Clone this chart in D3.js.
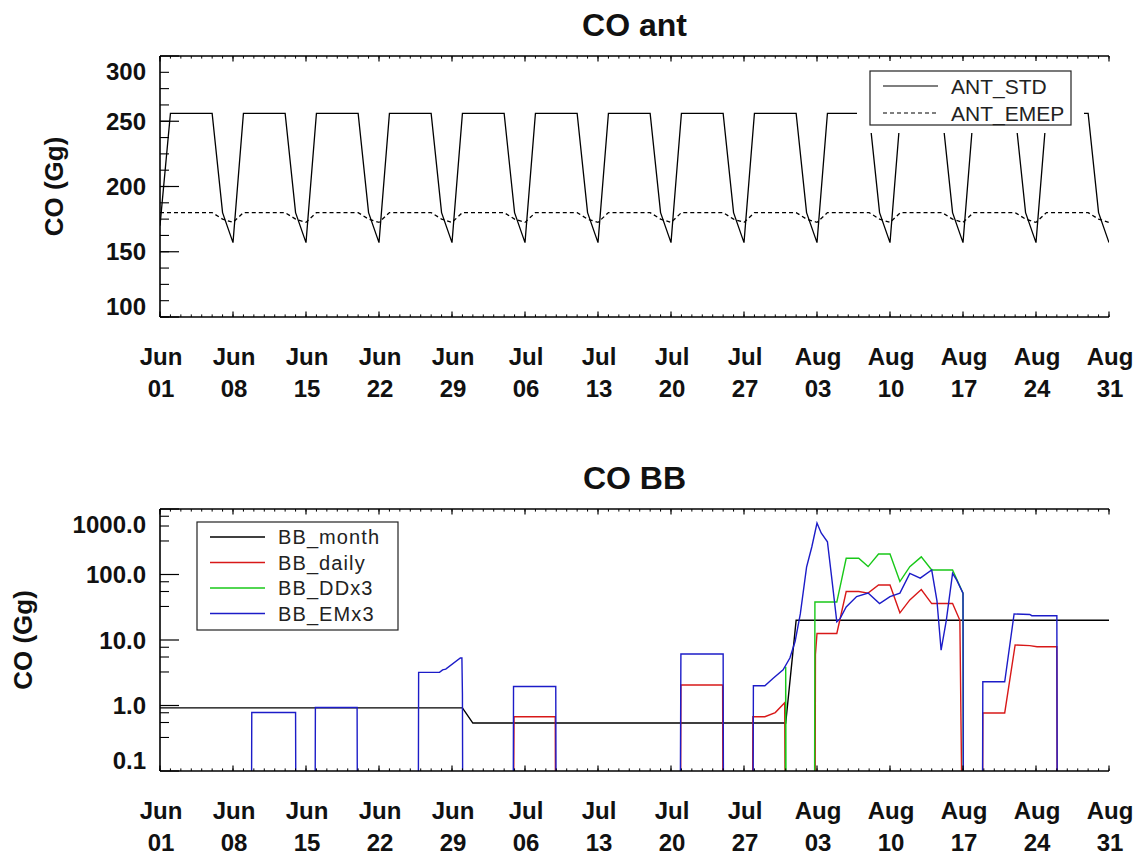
<!DOCTYPE html>
<html><head><meta charset="utf-8">
<script src="https://cdn.jsdelivr.net/npm/d3@7"></script>
<style>body{margin:0;background:#fff}svg{display:block}</style>
</head><body>
<svg id="c" width="1139" height="857"></svg>
<script>
// ---------------- DATA ----------------
const startDate = "2008-06-01";
const endDate = "2008-08-31";
const dateTicks = ["2008-06-01","2008-06-08","2008-06-15","2008-06-22","2008-06-29","2008-07-06","2008-07-13",
  "2008-07-20","2008-07-27","2008-08-03","2008-08-10","2008-08-17","2008-08-24","2008-08-31"];

// daily values, day 0 = Jun 01 ... day 91 = Aug 31
const antStd = [
 170,256,256,256,256,256,180, 157,256,256,256,256,256,180, 157,256,256,256,256,256,180,
 157,256,256,256,256,256,180, 157,256,256,256,256,256,180, 157,256,256,256,256,256,180,
 157,256,256,256,256,256,180, 157,256,256,256,256,256,180, 157,256,256,256,256,256,180,
 157,256,256,256,256,256,180, 157,256,256,256,256,256,180, 157,256,256,256,256,256,180,
 157,256,256,256,256,256,180, 157];
const antEmep = [
 180,180,180,180,180,180,175, 172.5,180,180,180,180,180,175, 172.5,180,180,180,180,180,175,
 172.5,180,180,180,180,180,175, 172.5,180,180,180,180,180,175, 172.5,180,180,180,180,180,175,
 172.5,180,180,180,180,180,175, 172.5,180,180,180,180,180,175, 172.5,180,180,180,180,180,175,
 172.5,180,180,180,180,180,175, 172.5,180,180,180,180,180,175, 172.5,180,180,180,180,180,175,
 172.5,180,180,180,180,180,175, 172.5];

// [day since Jun 01, value]; 0 = no emission (below the log axis)
const bbMonth = [[0,0.92],[29,0.92],[30,0.54],[60,0.54],[61,20],[91,20]];
const bbDaily = [[0,0],[33.85,0],[33.95,0.675],[37.9,0.675],[37.95,0],
  [49.9,0],[49.95,2.06],[53.95,2.06],[54.0,0],
  [56.8,0],[56.85,0.675],[58.0,0.675],[59.0,0.78],[59.9,1.1],[60.0,0],
  [62.8,0],[62.85,6],[63.0,12.6],[64.9,12.6],[65.8,55],[67.0,55],[67.9,52],[68.9,69],[70.0,69],
  [70.95,26],[71.9,41],[73.0,59],[74.0,36],[76.0,36],[76.7,20],[77.0,0],
  [78.85,0],[78.9,0.77],[81.0,0.77],[82.0,8.4],[83.4,8.2],[84.1,7.9],[86.0,7.9],[86.05,0],[91,0]];
const bbDDx3 = [[0,0],[59.95,0],[60.0,3.9],[60.05,0],
  [62.75,0],[62.8,38],[64.9,38],[65.8,177],[67.0,177],[67.9,132],[68.9,206],[70.0,206],
  [70.95,78],[71.9,132],[73.0,186],[74.0,117],[76.0,117],[77.0,52],[77.05,0],[91,0]];
const bbEMx3 = [[0,0],
  [8.75,0],[8.8,0.78],[13.0,0.78],[13.05,0],
  [14.85,0],[14.9,0.93],[18.9,0.93],[18.95,0],
  [24.75,0],[24.8,3.2],[26.8,3.2],[27.1,3.5],[27.4,3.6],[28.8,5.3],[28.95,5.3],[29.0,1.5],[29.05,0],
  [33.85,0],[33.9,1.95],[37.95,1.95],[38.0,0],
  [49.85,0],[49.95,6.1],[54.0,6.1],[54.05,0],
  [56.85,0],[56.9,2.0],[58.0,2.0],[58.8,2.6],[59.75,3.5],[60.4,5.3],[60.9,9.5],[61.4,25],[62.0,130],
  [62.5,263],[63.0,610],[63.4,430],[64.0,316],[64.4,92],[64.9,19],[65.2,21],[65.8,32],[66.8,46],
  [67.9,52],[69.0,36],[70.0,46],[70.95,52],[71.9,104],[72.9,88],[74.0,117],[74.5,40],[74.9,7],
  [75.4,20],[76.0,104],[76.4,82],[77.0,52],[77.05,0],
  [78.85,0],[78.9,2.3],[81.0,2.3],[81.9,25],[83.4,24.5],[83.6,23.5],[86.0,23.5],[86.05,0],[91,0]];

const antTicks = [100,150,200,250,300];
const antTickLabels = ["100","150","200","250","300"];
const bbTicks = [0.1,1,10,100,1000];
const bbTickLabels = ["0.1","1.0","10.0","100.0","1000.0"];

const antSeries = [{name:"ANT_STD", values:antStd, dash:null},{name:"ANT_EMEP", values:antEmep, dash:"4,3"}];
const bbSeries = [{name:"BB_month", values:bbMonth, color:"#000000"},
                  {name:"BB_daily", values:bbDaily, color:"#d81818"},
                  {name:"BB_DDx3", values:bbDDx3, color:"#18c818"},
                  {name:"BB_EMx3", values:bbEMx3, color:"#1c1cc8"}];

// ---------------- LAYOUT ----------------
const svg = d3.select("#c");
const FONT = "'Liberation Sans', Arial, Helvetica, sans-serif";
const t0 = d3.utcParse("%Y-%m-%d")(startDate), t1 = d3.utcParse("%Y-%m-%d")(endDate);
const dayToDate = d => new Date(t0.getTime() + d*864e5);
const tickDateObjs = dateTicks.map(d3.utcParse("%Y-%m-%d"));

const P1 = {l:160, r:1109, t:56, b:317};
const P2 = {l:160, r:1109, t:509, b:771};

function xAxis(P, x) {
  const g = svg.append("g").attr("stroke","#000");
  g.append("line").attr("x1",P.l).attr("x2",P.r).attr("y1",P.b).attr("y2",P.b).attr("stroke-width",1.6);
  g.append("line").attr("x1",P.l).attr("x2",P.r).attr("y1",P.t).attr("y2",P.t).attr("stroke-width",1.6);
  const days = d3.utcDay.range(t0, d3.utcDay.offset(t1,1));
  days.forEach(d => {
    const xx = x(d);
    g.append("line").attr("x1",xx).attr("x2",xx).attr("y1",P.b).attr("y2",P.b-2.6).attr("stroke-width",1);
    g.append("line").attr("x1",xx).attr("x2",xx).attr("y1",P.t).attr("y2",P.t+2.6).attr("stroke-width",1);
  });
  tickDateObjs.forEach(d => {
    const xx = x(d);
    g.append("line").attr("x1",xx).attr("x2",xx).attr("y1",P.b).attr("y2",P.b-5.5).attr("stroke-width",1.2);
    g.append("line").attr("x1",xx).attr("x2",xx).attr("y1",P.t).attr("y2",P.t+5.5).attr("stroke-width",1.2);
    const tg = svg.append("g").attr("font-family",FONT).attr("font-weight","bold").attr("font-size",24)
      .attr("text-anchor","middle").attr("fill","#111");
    tg.append("text").attr("x",xx+1).attr("y",P.b+48).text(d3.utcFormat("%b")(d));
    tg.append("text").attr("x",xx+1).attr("y",P.b+80).text(d3.utcFormat("%d")(d));
  });
}

function yAxis(P, y, ticks, labels, minor) {
  const g = svg.append("g").attr("stroke","#000");
  g.append("line").attr("x1",P.l).attr("x2",P.l).attr("y1",P.t).attr("y2",P.b).attr("stroke-width",1.6);
  minor.forEach(v => {
    const yy = y(v);
    g.append("line").attr("x1",P.l).attr("x2",P.l+9).attr("y1",yy).attr("y2",yy).attr("stroke-width",1.1);
  });
  const [d0,d1] = y.domain();
  ticks.forEach((v,i) => {
    const yy = y(v);
    g.append("line").attr("x1",P.l).attr("x2",P.l+19).attr("y1",yy).attr("y2",yy).attr("stroke-width",1.2);
    let cy = yy;
    if (v === d1) cy = yy + 15;
    if (v === d0) cy = yy - 11;
    svg.append("text").attr("x",P.l-14).attr("y",cy+8.5).attr("text-anchor","end")
      .attr("font-family",FONT).attr("font-weight","bold").attr("font-size",24).attr("fill","#111")
      .text(labels[i]);
  });
}

function title(P, txt) {
  svg.append("text").attr("x",(P.l+P.r)/2).attr("y",P.t-20).attr("text-anchor","middle")
    .attr("font-family",FONT).attr("font-weight","bold").attr("font-size",32).attr("fill","#111").text(txt);
}
function yTitle(P, bx, txt) {
  svg.append("text").attr("transform",`translate(${bx},${(P.t+P.b)/2}) rotate(-90)`)
    .attr("text-anchor","middle").attr("font-family",FONT).attr("font-weight","bold")
    .attr("font-size",26).attr("fill","#111").text(txt);
}

// ---------------- TOP CHART ----------------
const x1 = d3.scaleUtc().domain([t0,t1]).range([P1.l,P1.r]);
const y1 = d3.scaleLinear().domain([100,300]).range([P1.b,P1.t]);
svg.append("clipPath").attr("id","clip1").append("rect")
  .attr("x",P1.l).attr("y",P1.t).attr("width",P1.r-P1.l).attr("height",P1.b-P1.t);
const lineTop = d3.line().x((v,i)=>x1(dayToDate(i))).y(v=>y1(v));
const gTop = svg.append("g").attr("clip-path","url(#clip1)");
antSeries.forEach(s => {
  gTop.append("path").attr("d",lineTop(s.values)).attr("fill","none").attr("stroke","#000")
    .attr("stroke-width",1.3).attr("stroke-dasharray",s.dash);
});
xAxis(P1, x1);
yAxis(P1, y1, antTicks, antTickLabels, d3.range(100,300,12.5));
title(P1, "CO ant");
yTitle(P1, 63, "CO (Gg)");

// legend (top)
{
  const L = {x:870, y:71, w:201, h:54};
  svg.append("rect").attr("x",L.x-13).attr("y",L.y-10).attr("width",L.w+26).attr("height",L.h+18).attr("fill","#fff");
  svg.append("rect").attr("x",L.x).attr("y",L.y).attr("width",L.w).attr("height",L.h)
    .attr("fill","none").attr("stroke","#222").attr("stroke-width",1.2);
  antSeries.forEach((s,i) => {
    const yy = L.y + 15 + i*27;
    svg.append("line").attr("x1",L.x+13).attr("x2",L.x+68).attr("y1",yy).attr("y2",yy)
      .attr("stroke","#000").attr("stroke-width",1.2).attr("stroke-dasharray",s.dash);
    svg.append("text").attr("x",L.x+81).attr("y",yy+8).attr("font-family",FONT).attr("font-size",21)
      .attr("fill","#222").text(s.name);
  });
}

// ---------------- BOTTOM CHART ----------------
const x2 = d3.scaleUtc().domain([t0,t1]).range([P2.l,P2.r]);
const y2 = d3.scaleLog().domain([0.1,1000]).range([P2.b,P2.t]);
const FLOOR = 1e-3; // zero emissions plotted below the axis (clipped)
svg.append("clipPath").attr("id","clip2").append("rect")
  .attr("x",P2.l).attr("y",P2.t).attr("width",P2.r-P2.l).attr("height",P2.b-P2.t);
const lineBot = d3.line().x(d=>x2(dayToDate(d[0]))).y(d=>y2(Math.max(d[1],FLOOR)));
const gBot = svg.append("g").attr("clip-path","url(#clip2)");
bbSeries.forEach(s => {
  gBot.append("path").attr("d",lineBot(s.values)).attr("fill","none").attr("stroke",s.color)
    .attr("stroke-width",1.4);
});
xAxis(P2, x2);
const bbMinor = [];
[0.1,1,10,100].forEach(dec => [3.25,5.5,7.75].forEach(m => bbMinor.push(dec*m)));
yAxis(P2, y2, bbTicks, bbTickLabels, bbMinor);
title(P2, "CO BB");
yTitle(P2, 32, "CO (Gg)");

// legend (bottom)
{
  const L = {x:197, y:522, w:201, h:108};
  svg.append("rect").attr("x",L.x).attr("y",L.y).attr("width",L.w).attr("height",L.h)
    .attr("fill","#fff").attr("stroke","#222").attr("stroke-width",1.2);
  bbSeries.forEach((s,i) => {
    const yy = L.y + 15 + i*25.5;
    svg.append("line").attr("x1",L.x+13).attr("x2",L.x+68).attr("y1",yy).attr("y2",yy)
      .attr("stroke",s.color).attr("stroke-width",1.3);
    svg.append("text").attr("x",L.x+81).attr("y",yy+7).attr("font-family",FONT).attr("font-size",20)
      .attr("letter-spacing",1.1).attr("fill","#222").text(s.name);
  });
}
</script>
</body></html>
